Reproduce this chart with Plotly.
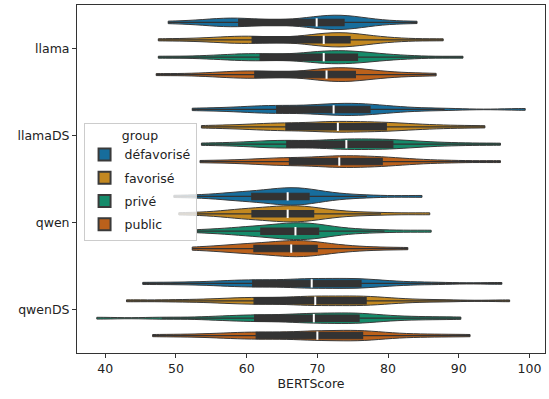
import numpy as np
import plotly.graph_objects as go

categories = ["llama", "llamaDS", "qwen", "qwenDS"]
groups = ["défavorisé", "favorisé", "privé", "public"]
group_colors = ["#176d9c", "#c38820", "#158b6a", "#bb611b"]

# BERTScore samples (21 values each: min, ..., q1, ..., median, ..., q3, ..., max)
llama_defavorise = [48.9, 53.5, 55.8, 57.0, 58.2, 59.1, 60.5, 63.5, 67.0, 68.8, 69.9, 71.0, 71.8, 72.5, 73.1, 73.6, 74.3, 75.2, 76.5, 79.0, 84.1]
llama_favorise = [47.5, 53.0, 56.5, 58.3, 59.8, 61.1, 63.0, 66.5, 68.8, 70.0, 70.9, 71.8, 72.6, 73.3, 73.9, 74.4, 75.3, 76.6, 78.5, 81.5, 87.8]
llama_prive = [47.5, 54.0, 57.5, 59.5, 61.0, 62.2, 64.5, 67.5, 69.3, 70.2, 70.9, 71.8, 72.8, 73.8, 74.7, 75.4, 76.5, 78.0, 80.0, 83.5, 90.6]
llama_public = [47.2, 53.5, 57.0, 59.0, 60.4, 61.4, 63.5, 67.0, 69.5, 70.5, 71.3, 72.2, 73.0, 73.8, 74.5, 75.1, 76.2, 77.6, 79.5, 82.5, 86.8]

llamads_defavorise = [52.3, 57.0, 60.0, 62.0, 63.5, 64.5, 66.5, 68.5, 70.3, 71.5, 72.3, 73.3, 74.5, 75.5, 76.4, 77.1, 78.5, 80.5, 83.0, 88.0, 99.4]
llamads_favorise = [53.6, 58.0, 61.0, 63.0, 64.8, 65.8, 67.8, 69.8, 71.3, 72.2, 72.9, 74.0, 75.5, 77.0, 78.4, 79.4, 80.8, 82.5, 85.0, 88.5, 93.7]
llamads_prive = [53.6, 58.5, 61.5, 63.5, 65.0, 65.9, 68.0, 70.5, 72.5, 73.4, 74.1, 75.3, 76.8, 78.2, 79.5, 80.3, 81.8, 83.5, 86.0, 90.0, 95.9]
llamads_public = [53.4, 58.5, 61.5, 63.8, 65.3, 66.3, 68.3, 70.3, 71.8, 72.5, 73.1, 74.2, 75.5, 76.8, 78.0, 78.8, 80.3, 82.0, 84.5, 89.0, 95.9]

qwen_defavorise = [49.7, 55.0, 57.5, 59.0, 60.2, 60.9, 62.5, 64.0, 65.0, 65.4, 65.8, 66.3, 66.9, 67.5, 68.1, 68.6, 69.5, 71.0, 73.5, 77.0, 84.8]
qwen_favorise = [50.4, 55.5, 58.0, 59.3, 60.3, 60.9, 62.3, 63.8, 64.9, 65.4, 65.8, 66.4, 67.1, 67.9, 68.6, 69.2, 70.3, 72.0, 75.0, 79.0, 85.9]
qwen_prive = [53.0, 56.5, 58.8, 60.3, 61.4, 62.2, 63.6, 65.0, 66.0, 66.5, 66.9, 67.4, 68.1, 68.8, 69.4, 69.9, 71.0, 72.8, 75.5, 79.5, 86.1]
qwen_public = [52.3, 55.8, 58.0, 59.5, 60.5, 61.2, 62.8, 64.3, 65.4, 65.9, 66.3, 66.9, 67.6, 68.4, 69.1, 69.7, 70.8, 72.3, 74.5, 77.5, 82.8]

qwends_defavorise = [45.3, 51.0, 55.5, 58.0, 59.8, 61.2, 63.0, 65.5, 67.5, 68.5, 69.2, 70.5, 72.5, 74.0, 75.0, 75.9, 77.0, 79.0, 82.0, 87.0, 96.1]
qwends_favorise = [43.0, 50.0, 55.0, 58.0, 60.0, 61.4, 63.3, 65.8, 68.0, 69.0, 69.7, 71.0, 73.0, 74.7, 75.8, 76.6, 77.8, 79.8, 82.8, 88.0, 97.2]
qwends_prive = [38.8, 48.0, 54.5, 57.8, 60.0, 61.5, 63.3, 65.8, 67.8, 68.8, 69.5, 70.8, 72.8, 74.3, 75.0, 75.6, 76.8, 78.8, 81.5, 85.5, 90.3]
qwends_public = [46.7, 52.0, 56.0, 58.5, 60.3, 61.7, 63.5, 66.0, 68.2, 69.2, 70.0, 71.3, 73.3, 74.8, 75.6, 76.1, 77.3, 79.3, 82.3, 86.5, 91.6]

samples = {
    "défavorisé": [llama_defavorise, llamads_defavorise, qwen_defavorise, qwends_defavorise],
    "favorisé": [llama_favorise, llamads_favorise, qwen_favorise, qwends_favorise],
    "privé": [llama_prive, llamads_prive, qwen_prive, qwends_prive],
    "public": [llama_public, llamads_public, qwen_public, qwends_public],
}

FONT = "DejaVu Sans"
EDGE = "#3a3a3a"
BOX = "#333333"

fig = go.Figure()
for g, col in zip(groups, group_colors):
    xs, ys = [], []
    for cat, vals in zip(categories, samples[g]):
        xs.extend(vals)
        ys.extend([cat] * len(vals))
    fig.add_trace(go.Violin(
        x=xs, y=ys, orientation="h", name=g, legendgroup=g,
        offsetgroup=g, alignmentgroup="a",
        scalegroup="all", scalemode="width", spanmode="hard", bandwidth=3,
        fillcolor=col, line=dict(color=EDGE, width=1), opacity=1,
        points=False, meanline_visible=False,
        box=dict(visible=True, width=0.36, fillcolor=BOX, line=dict(color=BOX, width=1.2)),
        hoverinfo="skip",
    ))

for g in groups:
    meds = [float(np.median(v)) for v in samples[g]]
    fig.add_trace(go.Scatter(
        x=meds, y=categories, mode="markers", orientation="h",
        offsetgroup=g, alignmentgroup="a", showlegend=False, hoverinfo="skip",
        marker=dict(symbol="line-ns", size=6, line=dict(color="white", width=2)),
    ))

fig.update_layout(
    width=549, height=399,
    margin=dict(l=77, r=4, t=5, b=46),
    paper_bgcolor="white", plot_bgcolor="white",
    violinmode="group", violingap=0.2, violingroupgap=0,
    scattermode="group", scattergap=0.2,
    font=dict(family=FONT, size=12, color="#222"),
    legend=dict(
        title=dict(text="group", side="top center", font=dict(size=12.5)),
        x=0.014, y=0.662, xanchor="left", yanchor="top",
        bgcolor="rgba(255,255,255,0.8)", bordercolor="#cccccc", borderwidth=1,
        font=dict(size=12.5), itemsizing="constant", tracegroupgap=4,
    ),
    xaxis=dict(
        range=[36, 102.2], tickvals=[40, 50, 60, 70, 80, 90, 100],
        title=dict(text="BERTScore", font=dict(size=12.5), standoff=4),
        showline=True, linecolor="#333", linewidth=1, mirror=True,
        ticks="outside", ticklen=4, tickcolor="#333", showgrid=False, zeroline=False,
        tickfont=dict(size=12.5), automargin=False,
    ),
    yaxis=dict(
        type="category", categoryorder="array", categoryarray=categories,
        range=[3.5, -0.5],
        showline=True, linecolor="#333", linewidth=1, mirror=True,
        ticks="outside", ticklen=4, tickcolor="#333", showgrid=False,
        tickfont=dict(size=12.5), automargin=False,
    ),
)

fig.write_html("out.html", config={"displayModeBar": False},
               post_script="document.body.style.margin='0';")
